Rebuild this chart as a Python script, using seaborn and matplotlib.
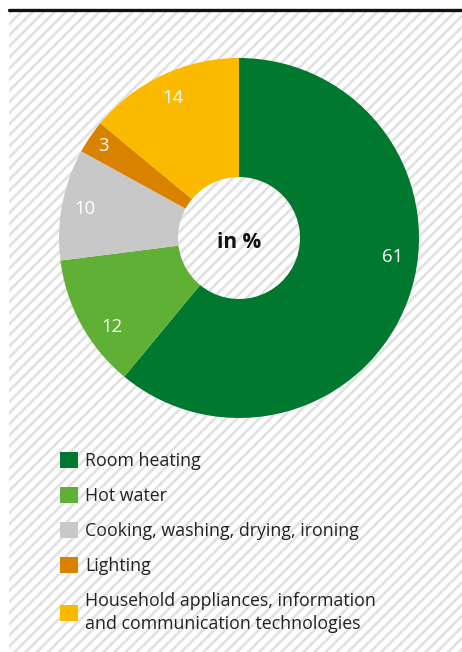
import matplotlib
matplotlib.use("Agg")
import matplotlib.pyplot as plt
from matplotlib.patches import Rectangle
from matplotlib.lines import Line2D
import numpy as np
import seaborn as sns

categories = ["Room heating", "Hot water", "Cooking, washing, drying, ironing",
              "Lighting", "Household appliances, information\nand communication technologies"]
values = [61, 12, 10, 3, 14]
colors = ["#00782f", "#5fb035", "#c8c8c8", "#d98200", "#fbb900"]
center_label = "in %"

# label placement tweaks (layout only)
label_nudge_deg = [12.7, 6.3, 0.0, 0.0, 0.0]
label_dist = [0.86, 0.86, 0.87, 0.91, 0.86]

sns.set_theme(style="white")
plt.rcParams["font.family"] = ["Open Sans", "DejaVu Sans"]
plt.rcParams["hatch.color"] = "#e2e2e2"
plt.rcParams["hatch.linewidth"] = 2.0

W, H = 462, 652
fig = plt.figure(figsize=(W / 100, H / 100), dpi=100)
fig.patch.set_facecolor("white")

# hatched background panel
bg = Rectangle((9 / W, 0), 1 - 9 / W, 1 - 12 / H, transform=fig.transFigure,
               facecolor="white", edgecolor="#e2e2e2", hatch="///", linewidth=0, zorder=-5)
fig.patches.append(bg)
# top rule
fig.add_artist(Line2D([9 / W, 1], [1 - 9.5 / H, 1 - 9.5 / H], transform=fig.transFigure,
                      color="#111111", linewidth=2.4, zorder=-4))

cx, cy, r = 239, 238, 180
ax = fig.add_axes([(cx - r) / W, 1 - (cy + r) / H, 2 * r / W, 2 * r / H])
ax.set_zorder(2)
ax.patch.set_alpha(0)
wedges, _ = ax.pie(values, colors=colors, startangle=90, counterclock=False,
                   radius=1.0, wedgeprops=dict(width=1 - 61 / 180, linewidth=0))
total = sum(values)
cum = np.cumsum([0] + values[:-1])
for v, c0, nd, dist in zip(values, cum, label_nudge_deg, label_dist):
    ang = np.deg2rad(90 - (c0 + v / 2) / total * 360 + nd)
    ax.text(dist * np.cos(ang), dist * np.sin(ang), str(v), ha="center", va="center",
            color="white", fontsize=13.3)
ax.set_xlim(-1, 1)
ax.set_ylim(-1, 1)
ax.set_aspect("equal")
ax.axis("off")
ax.text(0, -0.025, center_label, ha="center", va="center", fontsize=15,
        fontweight="bold", color="#111111")

fs = 12.8
leg = fig.legend(wedges, categories, loc="upper left",
                 bbox_to_anchor=(53 / W, 1 - 445 / H), frameon=False,
                 fontsize=fs, handlelength=1.0, handleheight=1.0,
                 handletextpad=0.4, labelspacing=0.95, borderaxespad=0)
for t in leg.get_texts():
    t.set_color("#222222")
    t.set_linespacing(1.35)

fig.savefig("out.png", dpi=100)
